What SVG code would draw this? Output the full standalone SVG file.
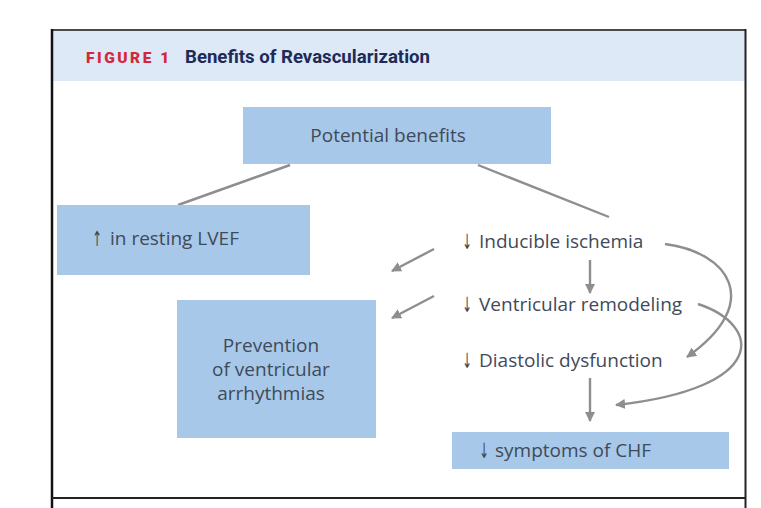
<svg xmlns="http://www.w3.org/2000/svg" width="761" height="508" viewBox="0 0 761 508">
<style>
.box{fill:#a7c8e8}
.t{font-family:"Open Sans","Noto Sans",sans-serif;font-size:19px;fill:#3f4a5a}
.ar{font-family:"DejaVu Sans",sans-serif;font-size:21px;fill:#3a4454;text-anchor:middle}
.c{stroke:#8e8e8e;stroke-width:2.4;fill:none}
</style>
<defs>
<marker id="ah" viewBox="0 0 10 10" refX="9" refY="5" markerWidth="4.2" markerHeight="4.2" markerUnits="strokeWidth" orient="auto">
<path d="M0,0 L10,5 L0,10 Z" fill="#8e8e8e"/>
</marker>
</defs>
<rect x="0" y="0" width="761" height="508" fill="#ffffff"/>
<g id="frame">
<rect x="53" y="31" width="692" height="50" fill="#dde9f7"/>
<line x1="52" y1="30" x2="746" y2="30" stroke="#4a4a4a" stroke-width="2"/>
<line x1="52" y1="29" x2="52" y2="508" stroke="#111" stroke-width="2.5"/>
<line x1="745.5" y1="29" x2="745.5" y2="508" stroke="#222" stroke-width="2"/>
<line x1="52" y1="498" x2="746" y2="498" stroke="#222" stroke-width="2"/>
<text x="86" y="63" font-family="Roboto,sans-serif" font-weight="900" font-size="15.5" letter-spacing="2.5" fill="#d3283c">FIGURE 1</text>
<text x="185" y="63" font-family="Roboto,sans-serif" font-weight="bold" font-size="18" fill="#1c2b58" textLength="245" lengthAdjust="spacingAndGlyphs">Benefits of Revascularization</text>
</g>
<g id="connectors">
<line class="c" x1="290" y1="165" x2="178" y2="205"/>
<line class="c" x1="478" y1="165" x2="609" y2="217"/>
<line class="c" x1="434" y1="249" x2="392" y2="271" marker-end="url(#ah)"/>
<line class="c" x1="434" y1="296" x2="392" y2="318" marker-end="url(#ah)"/>
<line class="c" x1="590" y1="260" x2="590" y2="293" marker-end="url(#ah)"/>
<line class="c" x1="590" y1="378" x2="590" y2="421" marker-end="url(#ah)"/>
<path class="c" d="M665,244 C728,252 765,302 687,357" marker-end="url(#ah)"/>
<path class="c" d="M698,304 C762,325 770,388 616,405" marker-end="url(#ah)"/>
</g>
<g id="potential">
<rect class="box" x="243" y="107" width="308" height="57"/>
<text class="t" x="388" y="142" text-anchor="middle">Potential benefits</text>
</g>
<g id="lvef">
<rect class="box" x="57" y="205" width="253" height="70"/>
<text class="ar" transform="translate(97,246) scale(0.55,1)">↑</text>
<text class="t" x="110" y="245">in resting LVEF</text>
</g>
<g id="prevention">
<rect class="box" x="177" y="300" width="199" height="138"/>
<text class="t" text-anchor="middle"><tspan x="271" y="352">Prevention</tspan><tspan x="271" y="376">of ventricular</tspan><tspan x="271" y="400">arrhythmias</tspan></text>
</g>
<g id="ischemia">
<text class="ar" transform="translate(467,249) scale(0.55,1)">↓</text>
<text class="t" x="479" y="248">Inducible ischemia</text>
</g>
<g id="remodeling">
<text class="ar" transform="translate(467,312) scale(0.55,1)">↓</text>
<text class="t" x="479" y="311">Ventricular remodeling</text>
</g>
<g id="diastolic">
<text class="ar" transform="translate(467,368) scale(0.55,1)">↓</text>
<text class="t" x="479" y="367">Diastolic dysfunction</text>
</g>
<g id="chf">
<rect class="box" x="452" y="432" width="277" height="37"/>
<text class="ar" transform="translate(484,458) scale(0.55,1)">↓</text>
<text class="t" x="495" y="457">symptoms of CHF</text>
</g>
</svg>
